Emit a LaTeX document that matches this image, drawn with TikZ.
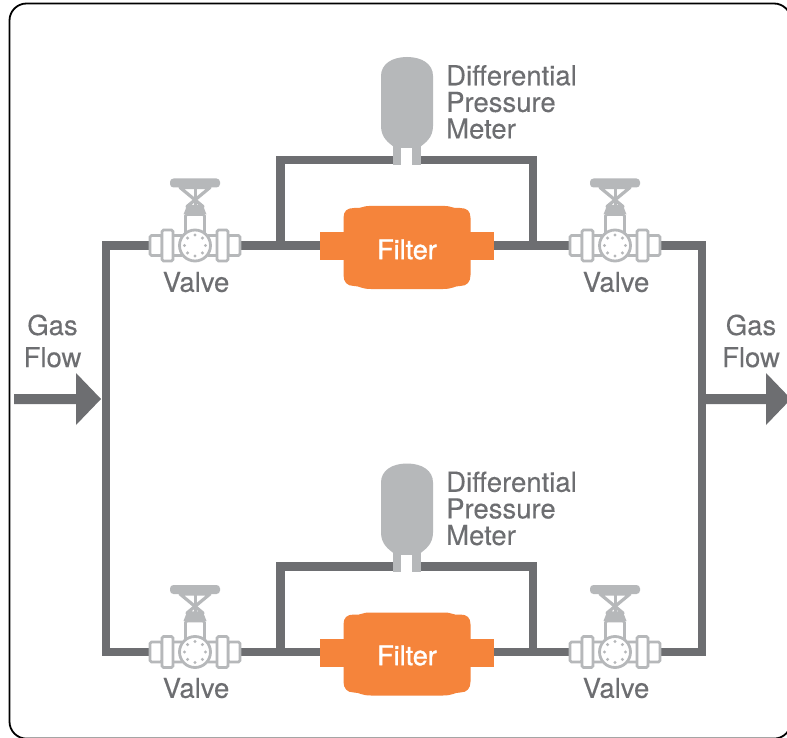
\documentclass[tikz,border=0pt]{standalone}
\usepackage{fontspec}
\setmainfont{TeX Gyre Heros}
\definecolor{pipe}{HTML}{6D6E71}
\definecolor{lite}{HTML}{B6B8BA}
\definecolor{orng}{HTML}{F5843B}
\definecolor{txt}{HTML}{6D6E71}
\tikzset{
  x=1pt,y=-1pt,
  pipeline/.style={draw=pipe,line width=8.5pt,line cap=butt,line join=miter},
  lab/.style={font=\fontsize{27.5}{26.6}\selectfont\addfontfeature{FakeBold=0.15},text=txt,inner sep=0pt,align=left},
  clab/.style={font=\fontsize{27.5}{32}\selectfont\addfontfeature{FakeBold=0.15},text=txt,inner sep=0pt,align=center},
  flab/.style={font=\fontsize{27}{30}\selectfont\addfontfeature{FakeBold=1.2},text=white,inner sep=0pt},
  vpart/.style={draw=lite,line width=2.8pt,fill=white,rounded corners=1.5pt},
  pics/valve/.style={code={
    \fill[lite,rounded corners=3.5pt] (-25,-67) rectangle (25,-58);
    \draw[lite,line width=3.2pt,line join=round] (-15,-58) -- (15,-58) -- (-8,-39) -- (8,-39) -- cycle;
    \fill[lite] (-1.5,-60) rectangle (1.5,-39);
    \fill[lite] (-8,-40) -- (8,-40) -- (11.5,-31) -- (-11.5,-31) -- cycle;
    \draw[vpart] (-9.5,-31) rectangle (9.5,-10);
    \draw[vpart] (-45,-10) rectangle (-33,10);
    \draw[vpart] (33,-10) rectangle (45,10);
    \draw[vpart] (-23,-10) rectangle (-12,10);
    \draw[vpart] (12,-10) rectangle (23,10);
    \draw[vpart] (-33,-15.5) rectangle (-22,15.5);
    \draw[vpart] (22,-15.5) rectangle (33,15.5);
    \draw[draw=lite,line width=2.8pt,fill=white] (0,0) circle (15.5);
    \foreach \a in {0,45,...,315}{\fill[lite] (\a:10.5) circle (1.7);}
  }},
  pics/filterbody/.style={code={
    \fill[orng] (-87,-14) rectangle (87,14);
    \fill[orng] (-63.5,-28) .. controls (-63.5,-35) and (-60,-38) .. (-53,-38) -- (-48,-38)
      .. controls (-45,-38) and (-44,-40) .. (-38,-40) -- (38,-40) .. controls (44,-40) and (45,-38) .. (48,-38) -- (53,-38)
      .. controls (60,-38) and (63.5,-35) .. (63.5,-28)
      -- (63.5,29) .. controls (63.5,36) and (60,40) .. (53,40)
      .. controls (47,40) and (46,43) .. (36,43) -- (-36,43) .. controls (-46,43) and (-47,40) .. (-53,40)
      .. controls (-60,40) and (-63.5,36) .. (-63.5,29) -- cycle;
  }},
  pics/meter/.style={code={
    \fill[lite] (-14,-16) rectangle (14,5);
    \fill[white] (-6,-12) rectangle (5,6);
    \fill[lite] (-26,-84) .. controls (-26,-96) and (-15,-103) .. (0,-103) .. controls (15,-103) and (26,-96) .. (26,-84)
      -- (26,-34) .. controls (26,-22) and (18,-17) .. (13,-13) -- (-13,-13) .. controls (-18,-17) and (-26,-22) .. (-26,-34) -- cycle;
  }},
}
\begin{document}
\begin{tikzpicture}
\useasboundingbox (0,0) rectangle (787,738);
\fill[white] (0,0) rectangle (787,738);
\draw[black,line width=1.8pt,rounded corners=17pt] (9.5,3.5) rectangle (791,738.6);

% anchors
\coordinate (v1) at (195,245.5);
\coordinate (v2) at (615,245.5);
\coordinate (v3) at (195,652);
\coordinate (v4) at (615,652);
\coordinate (f1) at (407,246);
\coordinate (f2) at (407,652.5);
\coordinate (m1) at (407,160);
\coordinate (m2) at (407,566.5);
\coordinate (tl) at (106,245.5);
\coordinate (bl) at (106,652);
\coordinate (tr) at (702,245.5);
\coordinate (br) at (702,652);
\coordinate (b1l) at (280.5,245.5);
\coordinate (b1r) at (533,245.5);
\coordinate (b2l) at (280.5,652);
\coordinate (b2r) at (533,652);
\coordinate (b1tl) at (280.5,160);
\coordinate (b1tr) at (533,160);
\coordinate (b2tl) at (280.5,566.5);
\coordinate (b2tr) at (533,566.5);

% pipes
\draw[pipeline] (v1) -- (tl) -- (bl) -- (v3);
\draw[pipeline] (v2) -- (tr) -- (br) -- (v4);
\draw[pipeline] (v1) -- (v2);
\draw[pipeline] (v3) -- (v4);
\draw[pipeline] (b1l) -- (b1tl) -- (b1tr) -- (b1r);
\draw[pipeline] (b2l) -- (b2tl) -- (b2tr) -- (b2r);

% flow arrows
\coordinate (ai) at (14,399);
\coordinate (aitip) at (101,399);
\coordinate (ao) at (702,399);
\coordinate (aotip) at (791,399);
\fill[pipe] (ai) ++(0,-5) -- ++(62,0) -- ++(0,-21) -- (aitip) -- ++(-25,26) -- ++(0,-21) -- ++(-62,0) -- cycle;
\fill[pipe] (ao) ++(0,-5) -- ++(64,0) -- ++(0,-21) -- (aotip) -- ++(-25,26) -- ++(0,-21) -- ++(-64,0) -- cycle;

% components
\path (v1) pic {valve};
\path (v2) pic {valve};
\path (v3) pic {valve};
\path (v4) pic {valve};
\path (f1) pic {filterbody};
\path (f2) pic {filterbody};
\path (m1) pic {meter};
\path (m2) pic {meter};

% labels
\node[flab] (ft1) at (407,249.5) {Filter};
\node[flab] (ft2) at (407,655.5) {Filter};
\node[clab] (vl1) at (196,282) {Valve};
\node[clab] (vl2) at (616,282) {Valve};
\node[clab] (vl3) at (196,688) {Valve};
\node[clab] (vl4) at (616,688) {Valve};
\node[lab,anchor=west] (ml1) at (446,102) {Differential\\Pressure\\Meter};
\node[lab,anchor=west] (ml2) at (446,508.5) {Differential\\Pressure\\Meter};
\node[clab] (gi) at (52.5,341) {Gas\\Flow};
\node[clab] (go) at (751,341) {Gas\\Flow};
\end{tikzpicture}
\end{document}
